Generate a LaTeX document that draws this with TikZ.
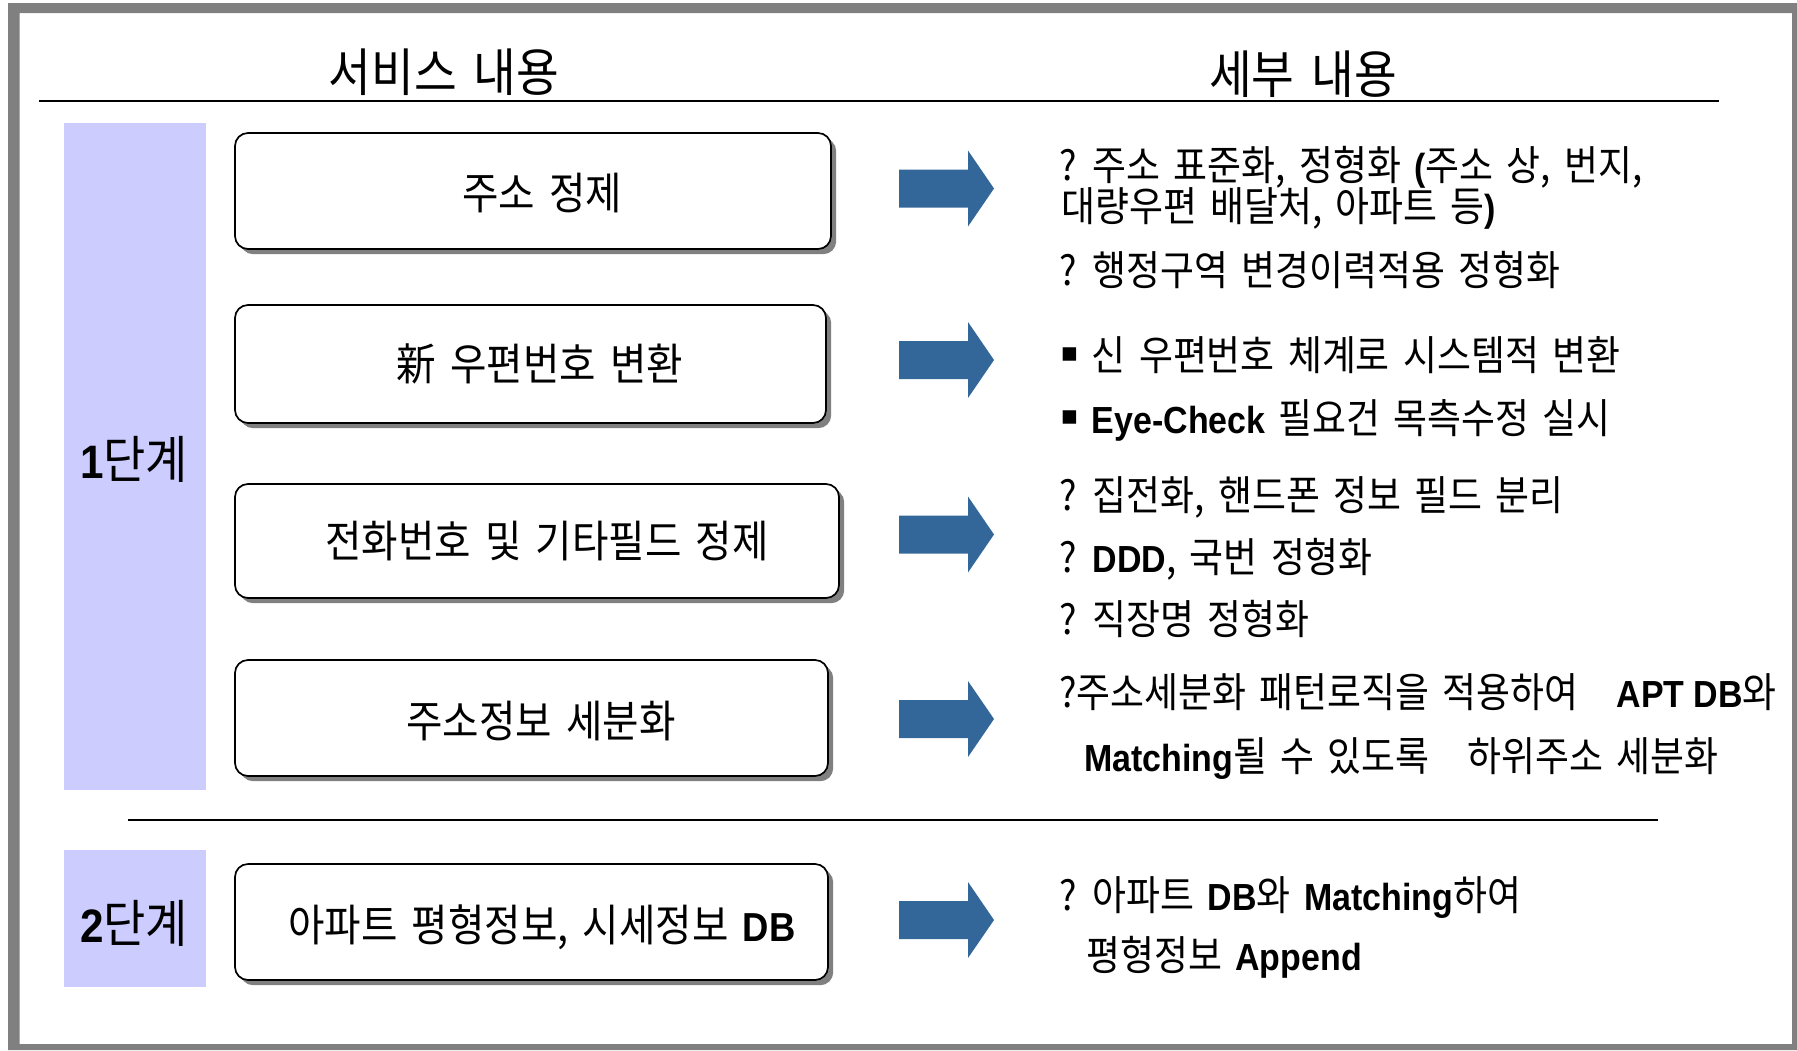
\documentclass[tikz,border=0pt]{standalone}
\usepackage{fontspec}
\setmainfont{Noto Sans CJK KR}[FakeStretch=0.9,WordSpace=1.6]
\newfontfamily\latfont{Liberation Sans}[FakeStretch=0.9,Scale=0.92]
\newfontfamily\dvsans{DejaVu Sans}
\usetikzlibrary{shadows}
\definecolor{framegray}{RGB}{128,128,128}
\definecolor{lav}{RGB}{204,204,255}
\definecolor{arrowblue}{RGB}{52,103,153}
\newcommand\bt[1]{{\latfont\bfseries #1}}
\newcommand\sqbul{\raisebox{4.5pt}{\dvsans\fontsize{13.5pt}{14pt}\selectfont ▪}}
\begin{document}
\begin{tikzpicture}[x=0.5pt,y=-0.5pt,
  svcbox/.style={draw=black, line width=0.85pt, fill=white, rounded corners=6.5pt, inner sep=0pt,
    drop shadow={shadow xshift=2.6pt, shadow yshift=-2.6pt, fill=framegray, opacity=1}},
  boxtext/.style={anchor=base, inner sep=0pt, font=\fontsize{22pt}{26pt}\selectfont},
  headtext/.style={anchor=base, inner sep=0pt, font=\fontsize{25.8pt}{30pt}\selectfont},
  stagetext/.style={anchor=base, inner sep=0pt, font=\fontsize{25.5pt}{29pt}\selectfont},
  detail/.style={anchor=base west, inner sep=0pt, font=\fontsize{20.5pt}{24pt}\selectfont},
  rule/.style={line width=1.3pt},
  blockarrow/.style={fill=arrowblue}]
\useasboundingbox (0,0) rectangle (1797,1050);
% frame
\fill[framegray, even odd rule] (8,3) rectangle (1797,1050) (19.5,13) rectangle (1792,1044);
% headers
\node[headtext] (h1) at (444,91) {서비스 내용};
\node[headtext] (h2) at (1303,93) {세부 내용};
\coordinate (hl1) at (39,101);
\coordinate (hl2) at (1719,101);
\draw[rule] (hl1) -- (hl2);
% stage bands
\fill[lav] (64,123) rectangle (206,790);
\fill[lav] (64,850) rectangle (206,987);
\node[stagetext] (s1) at (134,478) {\bt{1}단계};
\node[stagetext] (s2) at (134,942) {\bt{2}단계};
% separator
\coordinate (sl1) at (128,820);
\coordinate (sl2) at (1658,820);
\draw[rule] (sl1) -- (sl2);
% service boxes
\node[svcbox, minimum width=298pt, minimum height=58pt] (b1) at (533,191) {};
\node[svcbox, minimum width=295.5pt, minimum height=59pt] (b2) at (530.5,364) {};
\node[svcbox, minimum width=302pt, minimum height=57pt] (b3) at (537,541) {};
\node[svcbox, minimum width=296.5pt, minimum height=58pt] (b4) at (531.5,718) {};
\node[svcbox, minimum width=296.5pt, minimum height=58pt] (b5) at (531.5,922) {};
\node[boxtext] (t1) at (542,209) {주소 정제};
\node[boxtext] (t2) at (540,380) {新 우편번호 변환};
\node[boxtext] (t3) at (547,557) {전화번호 및 기타필드 정제};
\node[boxtext] (t4) at (541,737) {주소정보 세분화};
\node[boxtext] (t5) at (542,941) {아파트 평형정보, 시세정보 \bt{DB}};
% arrows
\foreach \yy/\nm in {188.5/a1,360/a2,534.5/a3,719/a4,920/a5}{
  \fill[blockarrow] (899,\yy-19) -- (968,\yy-19) -- (968,\yy-38) -- (994,\yy)
     -- (968,\yy+38) -- (968,\yy+19) -- (899,\yy+19) -- cycle;
}
% details
\node[detail] (d1) at (1059,180) {? 주소 표준화, 정형화 \bt{(}주소 상, 번지,};
\node[detail] (d2) at (1061,221) {대량우편 배달처, 아파트 등\bt{)}};
\node[detail] (d3) at (1059,285) {? 행정구역 변경이력적용 정형화};
\node[detail] (d4) at (1060,370) {\sqbul{} 신 우편번호 체계로 시스템적 변환};
\node[detail] (d5) at (1060,433) {\sqbul{} \bt{Eye-Check} 필요건 목측수정 실시};
\node[detail] (d6) at (1059,510) {? 집전화, 핸드폰 정보 필드 분리};
\node[detail] (d7) at (1059,572) {? \bt{DDD}, 국번 정형화};
\node[detail] (d8) at (1059,634) {? 직장명 정형화};
\node[detail] (d9) at (1059,707) {?주소세분화 패턴로직을 적용하여\hspace{19pt}\bt{APT DB}와};
\node[detail] (d10) at (1084,771) {\bt{Matching}될 수 있도록\hspace{19pt}하위주소 세분화};
\node[detail] (d11) at (1059,910) {? 아파트 \bt{DB}와 \bt{Matching}하여};
\node[detail] (d12) at (1086,970) {평형정보 \bt{Append}};
\end{tikzpicture}
\end{document}
